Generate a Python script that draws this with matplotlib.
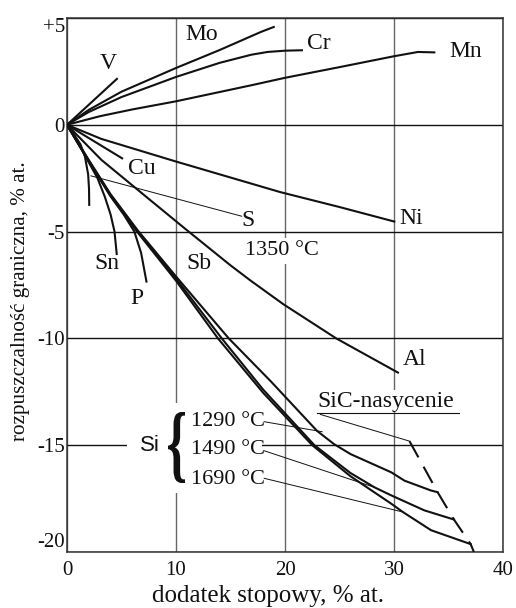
import matplotlib
matplotlib.use('Agg')
import matplotlib.pyplot as plt
from matplotlib.textpath import TextPath
from matplotlib.patches import PathPatch, Rectangle
from matplotlib.font_manager import FontProperties
from matplotlib.transforms import Affine2D, IdentityTransform

plt.rcParams['font.family'] = ['Liberation Serif', 'DejaVu Serif']

# --- curves (x: % at. addition, y: % at. change of solubility)
v_x = [0, 4.58]
v_y = [0, 2.15]
mo_x = [0, 2, 5, 10, 14, 17.8, 18.97]
mo_y = [0, 0.7, 1.55, 2.66, 3.5, 4.35, 4.58]
cr_x = [0, 2, 5, 10, 14, 16.9, 18.4, 20, 21.55]
cr_y = [0, 0.6, 1.3, 2.24, 2.9, 3.28, 3.41, 3.47, 3.49]
mn_x = [0, 3, 6, 10, 16.9, 20, 25, 30, 32.2, 33.7]
mn_y = [0, 0.4, 0.72, 1.1, 1.85, 2.2, 2.7, 3.21, 3.41, 3.39]

cu_x = [0, 5.06]
cu_y = [0, -1.57]
ni_x = [0, 3.15, 10, 19.56, 25, 30.03]
ni_y = [0, -0.66, -1.72, -3.15, -3.85, -4.53]
al_x = [0, 3.15, 7.29, 10.8, 15, 16.86, 19.85, 24.7, 30.36]
al_y = [0, -1.64, -3.38, -4.85, -6.58, -7.3, -8.4, -10.0, -11.6]
s_x = [0, 0.6, 1.24, 1.65, 1.94, 2.02, 2.04]
s_y = [0, -0.42, -0.92, -1.5, -2.32, -3.0, -3.75]
sn_x = [0, 1.5, 2.8, 3.47, 4.0, 4.36, 4.56]
sn_y = [0, -1.3, -2.5, -3.37, -4.2, -5.0, -6.05]
p_x = [0, 2, 4, 5.2, 6.18, 6.8, 7.29]
p_y = [0, -1.7, -3.35, -4.2, -5.0, -6.0, -7.34]

si1290_x = [0, 2, 4, 6.5, 10, 14.84, 18.68, 22.94, 24.5, 26.03, 29.75, 30.96, 33.39, 34.0]
si1290_y = [0, -1.65, -3.25, -4.95, -7.1, -10.0, -12.0, -14.33, -14.95, -15.42, -16.27, -16.66, -17.12, -17.2]
si1490_x = [0, 2, 4, 6.5, 10, 14.2, 18, 22.7, 26, 28.2, 29.75, 32.78, 35.5]
si1490_y = [0, -1.68, -3.3, -5.0, -7.2, -10.0, -12.4, -15.0, -16.3, -16.97, -17.35, -18.05, -18.48]
si1690_x = [0, 2, 4, 6.5, 10, 13.85, 18, 22.5, 26, 29.75, 30.82, 33.4, 37.03]
si1690_y = [0, -1.7, -3.33, -5.05, -7.3, -10.0, -12.55, -15.0, -16.45, -17.74, -18.13, -18.98, -19.63]

# SiC saturation limit (dashed), passing through the ends of the Si curves
sic_x = [31.42, 34.0, 35.5, 37.03, 37.33]
sic_y = [-14.81, -17.2, -18.48, -19.63, -20.0]

x_ticks = [0, 10, 20, 30, 40]
x_ticklabels = ['0', '10', '20', '30', '40']
y_ticks = [5, 0, -5, -10, -15, -20]
y_ticklabels = ['+5', '0', '-5', '-10', '-15', '-20']

fig = plt.figure(figsize=(5.16, 6.08), dpi=100)
ax = fig.add_axes([67/516, 56/608, 436/516, 534/608])
ax.set_xlim(0, 40)
ax.set_ylim(-20, 5)
ax.set_xticks(x_ticks)
ax.set_xticklabels(x_ticklabels)
ax.set_yticks(y_ticks)
ax.set_yticklabels(y_ticklabels)
ax.tick_params(length=0, labelsize=15, labelcolor='#111111')
ax.tick_params(axis='x', pad=6.5)
ax.tick_params(axis='y', pad=1.5)
ytl = ax.get_yticklabels()
ytl[0].set_va('top')
ytl[-1].set_va('bottom')

ax.set_axisbelow(True)
ax.xaxis.grid(True, color='#666666', lw=1.0)
ax.yaxis.grid(True, color='#111111', lw=1.0)
for sp in ax.spines.values():
    sp.set_color('#333333')
    sp.set_linewidth(1.1)

ax.set_xlabel('dodatek stopowy, % at.', fontsize=18, color='#111111')
ax.xaxis.label.set_va('center')
ax.xaxis.set_label_coords(0.461, -0.083)
ax.set_ylabel('rozpuszczalność graniczna, % at.', fontsize=15.2, color='#111111')
ax.yaxis.set_label_coords(-0.085, 0.469)

curves = [(v_x, v_y), (mo_x, mo_y), (cr_x, cr_y), (mn_x, mn_y),
          (cu_x, cu_y), (ni_x, ni_y), (al_x, al_y), (s_x, s_y),
          (sn_x, sn_y), (p_x, p_y),
          (si1290_x, si1290_y), (si1490_x, si1490_y), (si1690_x, si1690_y)]
for xs, ys in curves:
    ax.plot(xs, ys, color='#111111', lw=1.5, zorder=3)

ax.plot(sic_x, sic_y, color='#111111', lw=1.5, zorder=3,
        linestyle=(0, (8.9, 5.1)))

# leader lines
leaders = [([2.2, 16.03], [-2.39, -4.28]),
           ([18.09, 23.41], [-13.9, -14.37]),
           ([18.09, 28.2], [-15.26, -16.97]),
           ([18.09, 30.82], [-16.55, -18.13]),
           ([23.25, 31.42], [-13.56, -14.81])]
for xs, ys in leaders:
    ax.plot(xs, ys, color='#111111', lw=0.7, zorder=3)

# underline of SiC label
ax.plot([22.98, 35.94], [-13.51, -13.51], color='#111111', lw=0.8, zorder=3)

lab = dict(fontsize=17, color='#111111', zorder=4)
ax.text(3.79, 2.86, 'V', ha='center', va='center', **lab)
ax.text(12.32, 4.22, 'Mo', ha='center', va='center', **lab)
ax.text(22.0, 3.8, 'Cr', ha='left', va='center', **lab)
ax.text(35.05, 3.43, 'Mn', ha='left', va='center', **lab)
ax.text(6.83, -2.04, 'Cu', ha='center', va='center', **lab)
ax.text(16.03, -4.5, 'S', ha='left', va='center', **lab)
ax.text(30.48, -4.37, 'Ni', ha='left', va='center', **lab)
ax.text(30.85, -10.98, 'Al', ha='left', va='center', **lab)
ax.text(3.63, -6.5, 'Sn', ha='center', va='center', **lab)
ax.text(6.4, -8.12, 'P', ha='center', va='center', **lab)
ax.text(12.06, -6.49, 'Sb', ha='center', va='center', **lab)
ax.text(16.3, -5.89, '1350 °C', ha='left', va='center', fontsize=16,
        color='#111111', zorder=4,
        bbox=dict(facecolor='white', edgecolor='none', pad=2.5))
ax.text(22.98, -12.94, 'SiC-nasycenie', ha='left', va='center', fontsize=17,
        color='#111111', zorder=4,
        bbox=dict(facecolor='white', edgecolor='none', pad=0.5))

# white mask behind the Si block (hides grid lines there)
ax.add_patch(Rectangle((127, 608 - 493), 135, 90, transform=IdentityTransform(),
                       facecolor='white', edgecolor='none', zorder=2))
ax.text(7.64, -15.03, 'Si', ha='center', va='center', fontsize=16,
        family=['Liberation Sans', 'DejaVu Sans'], color='#111111', zorder=4)
for t, yy in zip(['1290 °C', '1490 °C', '1690 °C'], [-13.9, -15.22, -16.61]):
    ax.text(11.35, yy, t, ha='left', va='center', fontsize=16,
            color='#111111', zorder=4)

# curly brace
tp = TextPath((0, 0), '{', size=100,
              prop=FontProperties(family='Liberation Serif', weight='bold'))
ext = tp.get_extents()
tr = (Affine2D().translate(-ext.x0, -ext.y0)
      .scale(17 / ext.width, 71 / ext.height)
      .translate(168, 608 - 483))
ax.add_patch(PathPatch(tr.transform_path(tp), facecolor='#111111',
                       edgecolor='none', transform=IdentityTransform(), zorder=4))

fig.savefig('out.png', dpi=100)
